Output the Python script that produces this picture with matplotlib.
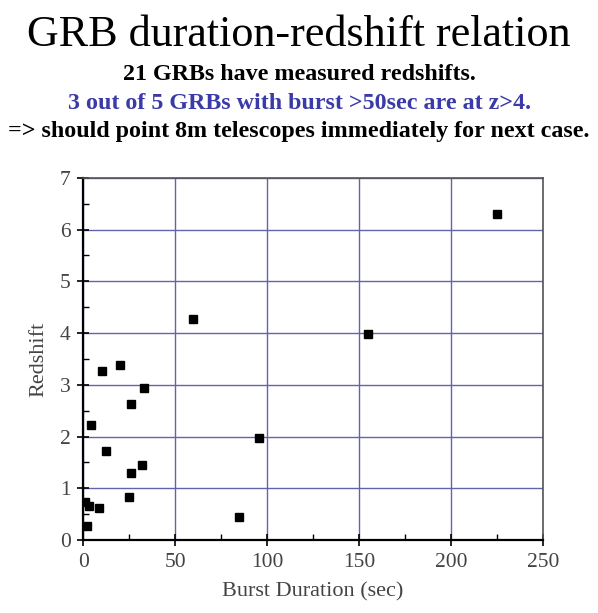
import matplotlib
matplotlib.use("Agg")
import matplotlib.pyplot as plt
from matplotlib.ticker import MultipleLocator

# burst duration (sec) and redshift
duration = [225, 155, 59.5, 95.5, 84.5, 20, 10, 33, 26, 4.5,
            12.5, 32, 26, 25, 8.7, 3, 1.2, 2]
redshift = [6.3, 3.99, 4.28, 1.97, 0.44, 3.38, 3.27, 2.93, 2.62, 2.22,
            1.73, 1.45, 1.29, 0.84, 0.62, 0.66, 0.73, 0.28]

title = "GRB duration-redshift relation"
lines = [
    ("21 GRBs have measured redshifts.", "black"),
    ("3 out of 5 GRBs with burst >50sec are at z>4.", "#3a3aa8"),
    ("=> should point 8m telescopes immediately for next case.", "black"),
]

serif = ["Liberation Serif", "DejaVu Serif"]
grid_color = "#6262b0"
label_color = "#444444"

fig = plt.figure(figsize=(5.98, 6.13), dpi=100)
fig.text(0.5, 0.925, title, ha="center", va="baseline", fontsize=31.8, family=serif)
for i, (txt, col) in enumerate(lines):
    fig.text(0.5, 0.8695 - i * 0.0465, txt, ha="center", va="baseline",
             fontsize=17.3, fontweight="bold", color=col, family=serif)

ax = fig.add_axes([0.139, 0.119, 0.769, 0.591])
ax.plot(duration, redshift, "s", color="black", markersize=5.5, zorder=3)

ax.set_xlim(0, 250)
ax.set_ylim(0, 7)
ax.xaxis.set_major_locator(MultipleLocator(50))
ax.xaxis.set_minor_locator(MultipleLocator(25))
ax.yaxis.set_major_locator(MultipleLocator(1))
ax.yaxis.set_minor_locator(MultipleLocator(0.5))
ax.grid(True, which="major", color=grid_color, linewidth=1.0)
ax.set_axisbelow(True)

ax.tick_params(which="major", direction="inout", length=8, width=1.2,
               labelsize=15.5, labelcolor=label_color, pad=5)
ax.tick_params(which="minor", direction="in", length=4, width=1.0)
for lab in ax.get_xticklabels() + ax.get_yticklabels():
    lab.set_family(serif)

for side in ["left", "bottom"]:
    ax.spines[side].set_linewidth(1.6)
for side in ["top", "right"]:
    ax.spines[side].set_color("#555555")
    ax.spines[side].set_linewidth(1.2)

ax.set_xlabel("Burst Duration (sec)", fontsize=16, color=label_color,
              family=serif, labelpad=8)
ax.set_ylabel("Redshift", fontsize=16, color=label_color, family=serif,
              labelpad=8)

fig.savefig("out.png", dpi=100)
